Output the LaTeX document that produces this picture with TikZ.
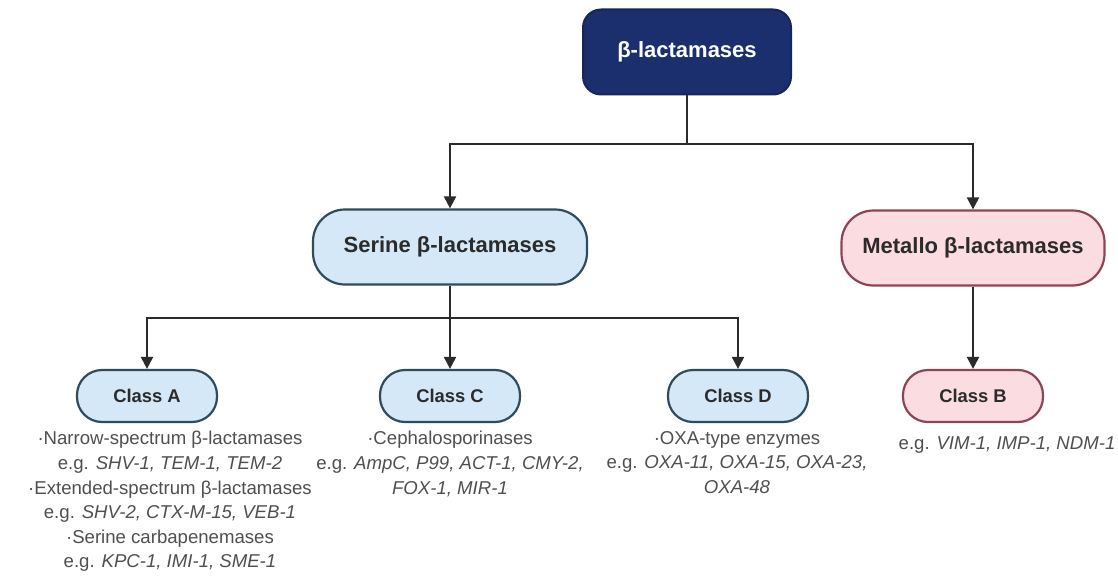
\documentclass[tikz,border=0pt]{standalone}
\usepackage{fontspec}
\setmainfont{Liberation Sans}
\usetikzlibrary{arrows.meta}

\definecolor{navy}{HTML}{1B2F6E}
\definecolor{serfill}{HTML}{D4E8F7}
\definecolor{serdraw}{HTML}{2F4B5F}
\definecolor{metfill}{HTML}{FADCE1}
\definecolor{metdraw}{HTML}{8E4455}
\definecolor{inkdark}{HTML}{2B2B2B}
\definecolor{inkgrey}{HTML}{4F4F4F}

\tikzset{
  rootbox/.style={draw=navy!80!black, fill=navy, text=white, line width=1pt,
    rounded corners=9pt, minimum width=104pt, minimum height=42.5pt,
    font=\fontsize{11}{13}\selectfont\bfseries},
  famfont/.style={text=inkdark, line width=1.1pt, rounded corners=16pt,
    minimum height=37.5pt, font=\fontsize{11}{13}\selectfont\bfseries},
  classbox/.style={text=inkdark, line width=1.1pt, rounded corners=12.5pt,
    minimum width=70pt, minimum height=26pt,
    font=\fontsize{9.2}{11}\selectfont\bfseries},
  serbox/.style={draw=serdraw, fill=serfill},
  metbox/.style={draw=metdraw, fill=metfill},
  note/.style={text=inkgrey, align=center, inner sep=0pt, anchor=north,
    font=\fontsize{9.3}{12.3}\selectfont},
  wire/.style={draw=inkdark, line width=1pt},
  arrow/.style={wire, -{Triangle[length=6pt,width=6pt]}}
}

\begin{document}
\begin{tikzpicture}[x=0.5pt,y=-0.5pt]
  \useasboundingbox (0,0) rectangle (1118,583);

  % top level
  \node[rootbox] (root) at (687,52) {β-lactamases};

  % families
  \node[famfont, serbox, minimum width=137pt] (serine) at (450,247) {Serine β-lactamases};
  \node[famfont, metbox, minimum width=131.5pt] (metallo) at (973,248) {Metallo β-lactamases};

  % classes
  \node[classbox, serbox] (classA) at (147,396) {Class A};
  \node[classbox, serbox] (classC) at (450,396) {Class C};
  \node[classbox, serbox] (classD) at (738,396) {Class D};
  \node[classbox, metbox] (classB) at (973,396) {Class B};

  % examples
  \node[note] (noteA) at (170,431) {·Narrow-spectrum β-lactamases\\
    e.g. \textit{SHV-1, TEM-1, TEM-2}\\
    ·Extended-spectrum β-lactamases\\
    e.g. \textit{SHV-2, CTX-M-15, VEB-1}\\
    ·Serine carbapenemases\\
    e.g. \textit{KPC-1, IMI-1, SME-1}};
  \node[note] (noteC) at (450,431) {·Cephalosporinases\\
    e.g. \textit{AmpC, P99, ACT-1, CMY-2,}\\
    \textit{FOX-1, MIR-1}};
  \node[note] (noteD) at (737,431) {·OXA-type enzymes\\
    e.g. \textit{OXA-11, OXA-15, OXA-23,}\\
    \textit{OXA-48}};
  \node[note] (noteB) at (1007,436) {e.g. \textit{VIM-1, IMP-1, NDM-1}};

  % connectors
  \draw[wire] (root.south) -- ++(0,48) coordinate (jtop);
  \draw[arrow] (jtop) -| (serine.north);
  \draw[arrow] (jtop) -| (metallo.north);
  \draw[wire] (serine.south) -- ++(0,32) coordinate (jser);
  \draw[arrow] (jser) -| (classA.north);
  \draw[arrow] (jser) -- (classC.north);
  \draw[arrow] (jser) -| (classD.north);
  \draw[arrow] (metallo.south) -- (classB.north);
\end{tikzpicture}
\end{document}
